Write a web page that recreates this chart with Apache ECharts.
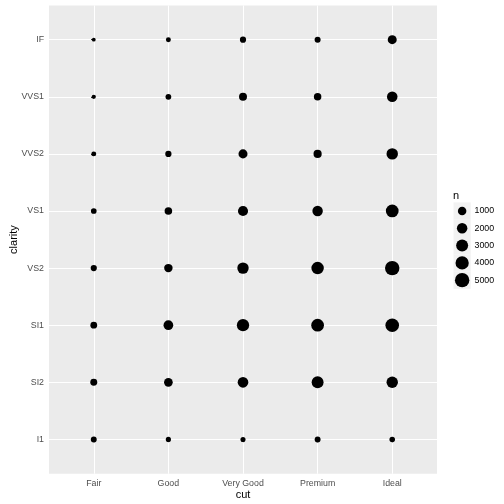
<!DOCTYPE html>
<html>
<head>
<meta charset="utf-8">
<script src="https://cdn.jsdelivr.net/npm/echarts@6/dist/echarts.min.js"></script>
<style>html,body{margin:0;padding:0;background:#fff}#c{width:504px;height:504px}</style>
</head>
<body>
<div id="c"></div>
<script>
var cuts = ['Fair', 'Good', 'Very Good', 'Premium', 'Ideal'];
var clarities = ['I1', 'SI2', 'SI1', 'VS2', 'VS1', 'VVS2', 'VVS1', 'IF'];
// counts per cut, ordered by clarities
var nFair     = [210, 466, 408, 261, 170, 69, 17, 9];
var nGood     = [96, 1081, 1560, 978, 648, 286, 186, 71];
var nVeryGood = [84, 2100, 3240, 2591, 1775, 1235, 789, 268];
var nPremium  = [205, 2949, 3575, 3357, 1989, 870, 616, 230];
var nIdeal    = [146, 2598, 4282, 5071, 3589, 2606, 2047, 1212];
var legendBreaks = [1000, 2000, 3000, 4000, 5000];

var counts = [nFair, nGood, nVeryGood, nPremium, nIdeal];
var data = [];
counts.forEach(function (arr, i) {
  arr.forEach(function (v, j) { data.push([i, j, v]); });
});
var all = [].concat.apply([], counts);
var nMin = Math.min.apply(null, all), nMax = Math.max.apply(null, all);
function sizeOf(n) {
  var s = 1 + 5 * Math.sqrt(Math.max(0, (n - nMin) / (nMax - nMin)));
  return 2.134 * s + 1.65;
}

var chart = echarts.init(document.getElementById('c'), null, {renderer: 'canvas'});
var G = {left: 49, top: 5.4, right: 67, bottom: 30.3};
var font = 'Liberation Sans';
var tickIdxX = cuts.map(function (_, i) { return i; });
var tickIdxY = clarities.map(function (_, i) { return i; });

var graphics = [{
  type: 'text', left: 453, top: 190,
  style: {text: 'n', font: '11px "Liberation Sans"', fill: '#000'}
}];
var keyH = 17.28, keyTop = 202.4;
legendBreaks.forEach(function (b, k) {
  var cy = keyTop + keyH * k + keyH / 2;
  graphics.push({type: 'rect', shape: {x: 453.5, y: keyTop + keyH * k, width: 17.28, height: keyH},
    style: {fill: '#F2F2F2'}});
  graphics.push({type: 'circle', shape: {cx: 453.5 + 8.64, cy: cy, r: sizeOf(b) / 2},
    style: {fill: '#000'}});
  graphics.push({type: 'text', x: 474.5, y: cy,
    style: {text: String(b), font: '8.8px "Liberation Sans"', fill: '#000', verticalAlign: 'middle'}});
});

chart.setOption({
  animation: false,
  backgroundColor: '#fff',
  grid: {left: G.left, top: G.top, right: G.right, bottom: G.bottom, show: true,
    backgroundColor: '#EBEBEB', borderWidth: 0, containLabel: false, outerBoundsMode: 'none'},
  xAxis: {
    type: 'value', min: -0.6, max: 4.6,
    name: 'cut', nameLocation: 'middle', nameGap: 16, nameMoveOverlap: false,
    nameTextStyle: {fontFamily: font, fontSize: 11, color: '#000', verticalAlign: 'top'},
    axisLine: {show: false},
    axisTick: {show: true, customValues: tickIdxX, length: 2.75, lineStyle: {color: '#333', width: 1.07}},
    axisLabel: {customValues: tickIdxX, margin: 5, fontFamily: font, fontSize: 8.8, color: '#4D4D4D',
      formatter: function (v) { return cuts[Math.round(v)] || ''; }},
    splitLine: {show: true, lineStyle: {color: '#fff', width: 1.07}}
  },
  yAxis: {
    type: 'value', min: -0.6, max: 7.6,
    name: 'clarity', nameLocation: 'middle', nameGap: 30, nameRotate: 90, nameMoveOverlap: false,
    nameTextStyle: {fontFamily: font, fontSize: 11, color: '#000'},
    axisLine: {show: false},
    axisTick: {show: true, customValues: tickIdxY, length: 2.75, lineStyle: {color: '#333', width: 1.07}},
    axisLabel: {customValues: tickIdxY, margin: 5, fontFamily: font, fontSize: 8.8, color: '#4D4D4D',
      formatter: function (v) { return clarities[Math.round(v)] || ''; }},
    splitLine: {show: true, lineStyle: {color: '#fff', width: 1.07}}
  },
  series: [{
    type: 'scatter', data: data,
    symbol: 'circle',
    symbolSize: function (d) { return sizeOf(d[2]); },
    itemStyle: {color: '#000', opacity: 1}
  }],
  graphic: graphics
});
</script>
</body>
</html>
